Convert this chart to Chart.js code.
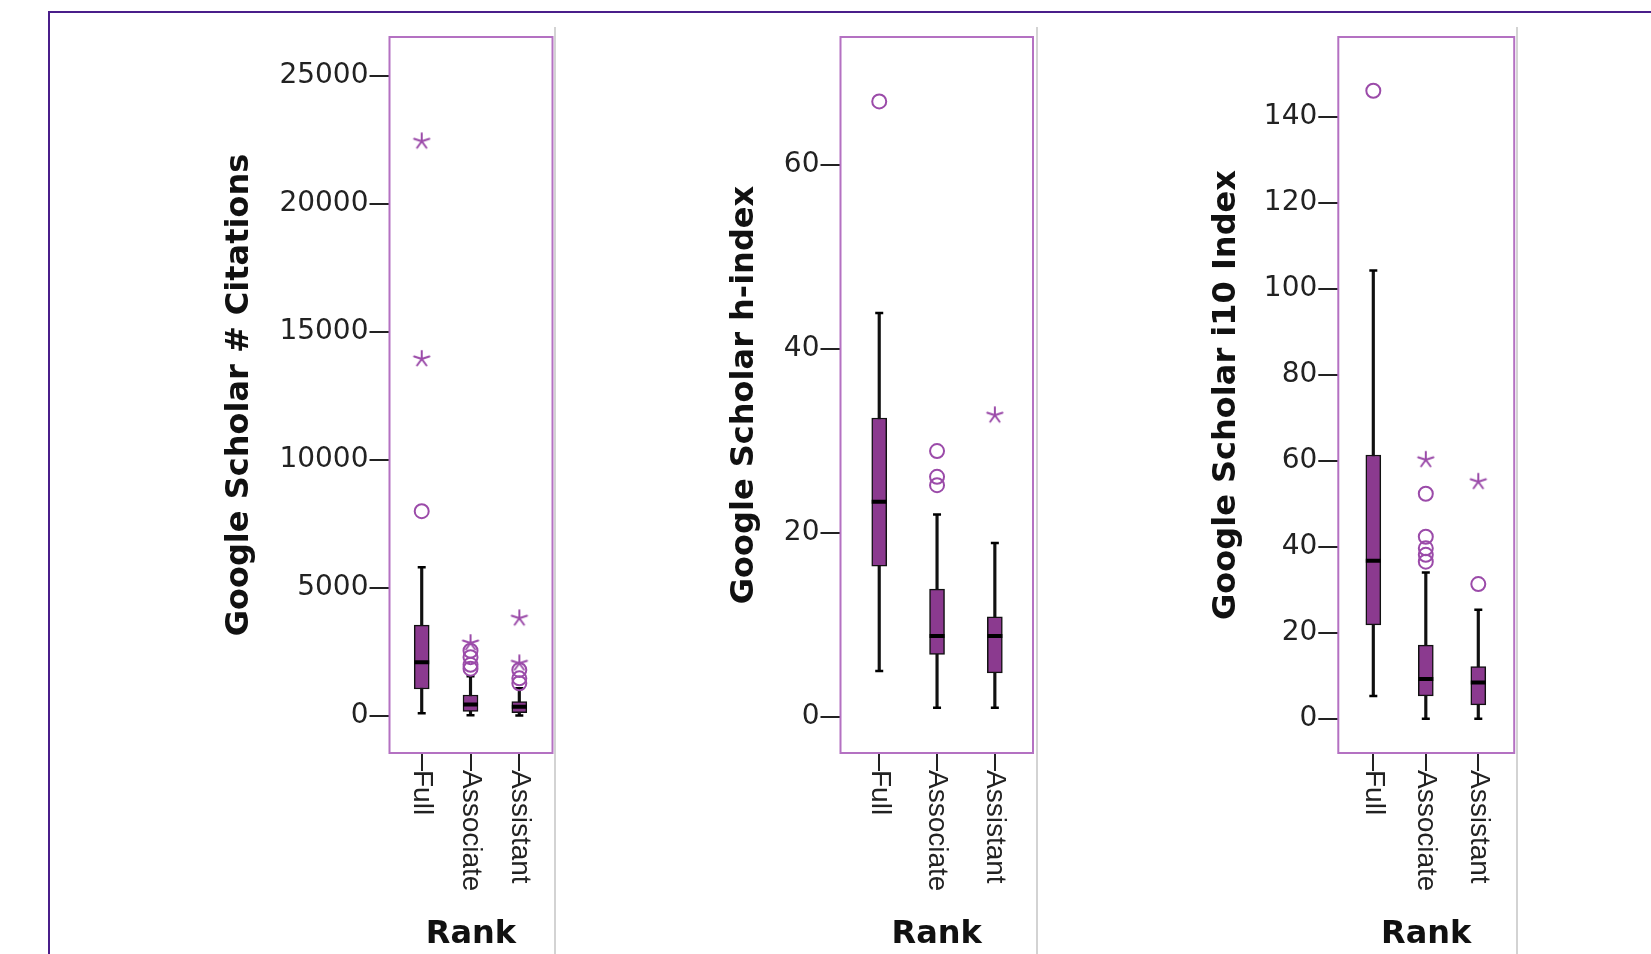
<!DOCTYPE html>
<html>
<head>
<meta charset="utf-8">
<script src="https://cdn.jsdelivr.net/npm/chart.js@4.4.1/dist/chart.umd.min.js"></script>
<style>
  html, body { margin: 0; padding: 0; background: #fff; overflow: hidden; }
  body { width: 1651px; height: 954px; position: relative; }
  .frame { position: absolute; left: 48px; top: 11px; width: 1700px; height: 1000px;
           border-left: 2px solid #4a1e8a; border-top: 2px solid #4a1e8a; }
  .sep { position: absolute; top: 27px; width: 2px; height: 927px; background: #d3d3d3; }
  canvas { position: absolute; top: 0; }
</style>
</head>
<body>
<div class="frame"></div>
<canvas id="chart-citas" width="494" height="954" style="left:60px"></canvas>
<canvas id="chart-hindex" width="475" height="954" style="left:560px"></canvas>
<canvas id="chart-i10" width="476" height="954" style="left:1040px"></canvas>
<div class="sep" style="left:554px"></div>
<div class="sep" style="left:1036px"></div>
<div class="sep" style="left:1516px"></div>

<script>
// Categorias (rango académico)
const ranks = ['Full', 'Associate', 'Assistant'];

// Google Scholar # Citations
const citMin = [105, 30, 20];
const citQ1 = [1055, 180, 130];
const citMedian = [2100, 450, 360];
const citQ3 = [3550, 820, 560];
const citMax = [5810, 1550, 1080];
const citCircles = [[8000], [1850, 2000, 2300, 2550], [1280, 1470, 1800]];
const citStars = [[13950, 22450], [2850], [2060, 3820]];
const citTicks = [0, 5000, 10000, 15000, 20000, 25000];

// Google Scholar h-index
const hMin = [5, 1, 1];
const hQ1 = [16.4, 6.8, 4.8];
const hMedian = [23.4, 8.8, 8.8];
const hQ3 = [32.5, 13.9, 10.9];
const hMax = [43.9, 22, 18.9];
const hCircles = [[66.9], [25.2, 26.1, 28.9], []];
const hStars = [[], [], [32.8]];
const hTicks = [0, 20, 40, 60];

// Google Scholar i10 Index
const i10Min = [5.3, 0, 0];
const i10Q1 = [21.8, 5.3, 3.2];
const i10Median = [36.7, 9.2, 8.4];
const i10Q3 = [61.3, 17.1, 12.1];
const i10Max = [104.2, 34, 25.3];
const i10Circles = [[146], [36.5, 38.1, 39.6, 42.3, 52.3], [31.3]];
const i10Stars = [[], [60.2], [55.1]];
const i10Ticks = [0, 20, 40, 60, 80, 100, 120, 140];

const PURPLE = '#8b3a8f';
const OUTLIER = '#9b4ba9';
const FRAME = '#b471c2';

// Asterisco de 5 brazos para los valores extremos
function crearAsterisco() {
    const c = document.createElement('canvas');
    c.width = 20;
    c.height = 20;
    const g = c.getContext('2d');
    g.strokeStyle = OUTLIER;
    g.lineWidth = 2;
    g.lineCap = 'round';
    for (let k = 0; k < 5; k++) {
        const a = -Math.PI / 2 + k * 2 * Math.PI / 5;
        g.beginPath();
        g.moveTo(10, 10);
        g.lineTo(10 + Math.cos(a) * 8, 10 + Math.sin(a) * 8);
        g.stroke();
    }
    return c;
}
const starMarker = crearAsterisco();

// Marco del area y etiquetas rotadas de las categorias
const rankPlugin = {
    id: 'rankPlugin',
    beforeDatasetsDraw(chart) {
        const { ctx, chartArea } = chart;
        ctx.save();
        ctx.strokeStyle = FRAME;
        ctx.lineWidth = 2;
        ctx.strokeRect(chartArea.left, chartArea.top, chartArea.right - chartArea.left, chartArea.bottom - chartArea.top);
        ctx.restore();
    },
    afterDraw(chart) {
        const { ctx, chartArea, scales } = chart;
        ctx.save();
        ctx.fillStyle = '#222';
        ctx.font = '28px "Liberation Sans", Arial, sans-serif';
        ctx.textAlign = 'left';
        ctx.textBaseline = 'middle';
        ranks.forEach((r, i) => {
            const x = scales.x.getPixelForValue(i);
            ctx.save();
            ctx.translate(x, chartArea.bottom + 17);
            ctx.rotate(Math.PI / 2);
            ctx.fillText(r, 0, 0);
            ctx.restore();
        });
        ctx.restore();
    }
};

function crearBoxplot(id, cfg) {
    const whiskers = ranks.map((r, i) => ({ x: i, y: [cfg.min[i], cfg.max[i]] }));
    const boxes = ranks.map((r, i) => ({ x: i, y: [cfg.q1[i], cfg.q3[i]] }));
    const medians = ranks.map((r, i) => ({ x: i, y: cfg.median[i] }));
    const caps = [];
    ranks.forEach((r, i) => caps.push({ x: i, y: cfg.min[i] }, { x: i, y: cfg.max[i] }));
    const circles = [];
    cfg.circles.forEach((vals, i) => vals.forEach(v => circles.push({ x: i, y: v })));
    const stars = [];
    cfg.stars.forEach((vals, i) => vals.forEach(v => stars.push({ x: i, y: v })));

    const titleFont = { family: 'DejaVu Sans', size: 32, weight: 'bold' };

    new Chart(document.getElementById(id), {
        type: 'bar',
        data: {
            datasets: [
                { type: 'scatter', data: circles, order: 0, pointStyle: 'circle', pointRadius: 7,
                  pointBorderWidth: 2, pointBorderColor: OUTLIER, pointBackgroundColor: 'rgba(0,0,0,0)' },
                { type: 'scatter', data: stars, order: 0, pointStyle: starMarker, pointRadius: 8 },
                { type: 'scatter', data: medians, order: 1, pointStyle: 'line', pointRadius: 7.5,
                  pointBorderWidth: 4, pointBorderColor: '#000' },
                { type: 'scatter', data: caps, order: 2, pointStyle: 'line', pointRadius: 4,
                  pointBorderWidth: 2.5, pointBorderColor: '#000' },
                { data: boxes, order: 3, grouped: false, barThickness: 15, backgroundColor: PURPLE,
                  borderColor: '#111', borderWidth: 1.5, borderSkipped: false },
                { data: whiskers, order: 4, grouped: false, barThickness: 2.5, backgroundColor: '#111',
                  borderWidth: 0 }
            ]
        },
        options: {
            responsive: false,
            animation: false,
            events: [],
            layout: {
                autoPadding: false,
                padding: { left: 0, top: 37, right: cfg.padRight, bottom: 0 }
            },
            plugins: { legend: { display: false }, tooltip: { enabled: false } },
            scales: {
                x: {
                    type: 'linear',
                    min: cfg.xMin,
                    max: cfg.xMax,
                    offset: false,
                    border: { display: false },
                    grid: { offset: false, drawOnChartArea: false, drawTicks: true, tickLength: 18, tickColor: '#222', tickWidth: 2, lineWidth: 2 },
                    ticks: { display: false },
                    afterBuildTicks: s => { s.ticks = ranks.map((r, i) => ({ value: i })); },
                    title: { display: true, text: 'Rank', font: titleFont, color: '#111', padding: { top: 0, bottom: 0 } },
                    afterFit: s => { s.height = 201; }
                },
                y: {
                    min: cfg.yMin,
                    max: cfg.yMax,
                    border: { display: false },
                    grid: { drawOnChartArea: false, drawTicks: true, tickLength: 20, tickColor: '#222', tickWidth: 2, lineWidth: 2 },
                    ticks: {
                        color: '#222',
                        padding: 1,
                        font: { family: 'DejaVu Sans', size: 28 },
                        callback: v => String(v)
                    },
                    afterBuildTicks: s => { s.ticks = cfg.ticks.map(v => ({ value: v })); },
                    title: { display: true, text: cfg.title, font: titleFont, color: '#111',
                             padding: { top: cfg.titlePad, bottom: 0 } },
                    afterFit: s => { s.width = cfg.axisWidth; }
                }
            }
        },
        plugins: [rankPlugin]
    });
}

crearBoxplot('chart-citas', {
    min: citMin, q1: citQ1, median: citMedian, q3: citQ3, max: citMax,
    circles: citCircles, stars: citStars, ticks: citTicks,
    title: 'Google Scholar # Citations',
    yMin: -1445, yMax: 26523, xMin: -0.66, xMax: 2.68,
    axisWidth: 329.5, titlePad: 160.8, padRight: 1.5
});

crearBoxplot('chart-hindex', {
    min: hMin, q1: hQ1, median: hMedian, q3: hQ3, max: hMax,
    circles: hCircles, stars: hStars, ticks: hTicks,
    title: 'Google Scholar h-index',
    yMin: -3.91, yMax: 73.9, xMin: -0.67, xMax: 2.66,
    axisWidth: 280.5, titlePad: 165.8, padRight: 2
});

crearBoxplot('chart-i10', {
    min: i10Min, q1: i10Q1, median: i10Median, q3: i10Q3, max: i10Max,
    circles: i10Circles, stars: i10Stars, ticks: i10Ticks,
    title: 'Google Scholar i10 Index',
    yMin: -7.98, yMax: 158.5, xMin: -0.667, xMax: 2.684,
    axisWidth: 298.3, titlePad: 167.8, padRight: 1.8
});
</script>
</body>
</html>
